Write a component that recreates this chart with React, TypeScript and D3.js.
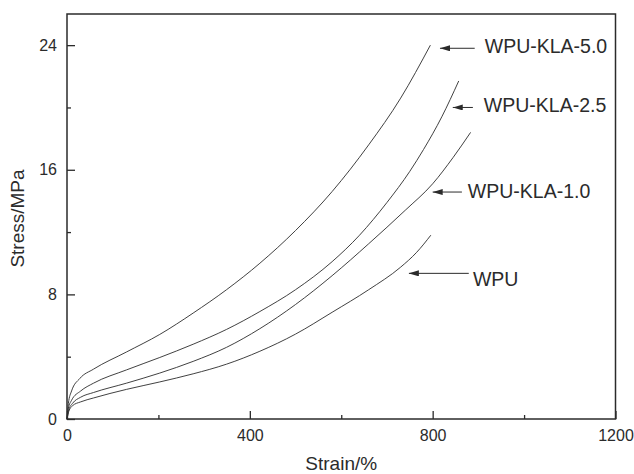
import React, { useEffect, useRef } from "react";
import * as d3 from "d3";

// strain (%) vs stress (MPa)
const strainKLA50 = [0, 3, 10, 28, 58, 130, 203, 276, 349, 422, 500, 580, 660, 730, 795];
const stressKLA50 = [0, 1.0, 1.8, 2.6, 3.2, 4.3, 5.43, 6.8, 8.3, 10.0, 12.1, 14.6, 17.6, 20.6, 24.0];

const strainKLA25 = [0, 3, 10, 30, 58, 130, 203, 276, 349, 422, 500, 580, 640, 700, 750, 780, 820, 857];
const stressKLA25 = [0, 0.7, 1.2, 1.8, 2.3, 3.15, 3.95, 4.8, 5.75, 6.9, 8.3, 10.1, 11.8, 13.9, 15.9, 17.3, 19.4, 21.7];

const strainKLA10 = [0, 4, 12, 30, 58, 130, 203, 276, 349, 422, 500, 580, 660, 740, 800, 845, 883];
const stressKLA10 = [0, 0.6, 1.0, 1.4, 1.7, 2.3, 2.95, 3.7, 4.6, 5.8, 7.35, 9.2, 11.25, 13.4, 15.1, 16.8, 18.4];

const strainWPU = [0, 4, 12, 30, 58, 130, 203, 276, 349, 422, 500, 580, 660, 730, 765, 796];
const stressWPU = [0, 0.5, 0.85, 1.1, 1.35, 1.9, 2.38, 2.9, 3.52, 4.35, 5.45, 6.85, 8.3, 9.75, 10.7, 11.8];

const labels = ["WPU-KLA-5.0", "WPU-KLA-2.5", "WPU-KLA-1.0", "WPU"];
const arrowTipX = [816, 844, 800, 748];
const arrowEndX = [892, 888, 864, 879];
const arrowY = [23.8, 20.0, 14.57, 9.35];
const labelX = [914, 912, 877, 888];
const labelY = [23.5, 19.7, 14.2, 8.55];

const xMajor = [0, 400, 800, 1200];
const xMinor = [200, 600, 1000];
const yMajor = [0, 8, 16, 24];
const yMinor = [4, 12, 20];

const App: React.FC = () => {
  const svgRef = useRef(null);

  useEffect(() => {
    const w = 634;
    const h = 474;
    const ink = "#2b2b2b";
    const font = "'Liberation Sans', Arial, sans-serif";

    const svg = d3.select(svgRef.current).attr("width", w).attr("height", h);

    const x = d3.scaleLinear().domain([0, 1200]).range([67, 615.5]);
    const y = d3.scaleLinear().domain([0, 26]).range([419, 14]);

    // curves
    const series = [
      [strainKLA50, stressKLA50],
      [strainKLA25, stressKLA25],
      [strainKLA10, stressKLA10],
      [strainWPU, stressWPU],
    ];
    const line = d3
      .line<[number, number]>()
      .x((d) => x(d[0]))
      .y((d) => y(d[1]))
      .curve(d3.curveMonotoneX);

    series.forEach(([xs, ys]) => {
      const pts = xs.map((v, i) => [v, ys[i]] as [number, number]);
      svg
        .append("path")
        .attr("d", line(pts))
        .attr("fill", "none")
        .attr("stroke", ink)
        .attr("stroke-width", 0.9);
    });

    // axes (ticks inward)
    const gx = svg.append("g").attr("transform", `translate(0, ${y(0)})`);
    gx.call(d3.axisBottom(x).tickValues(xMajor).tickSize(-8).tickPadding(11).tickFormat(d3.format("d")));
    const gxm = svg.append("g").attr("transform", `translate(0, ${y(0)})`);
    gxm.call(d3.axisBottom(x).tickValues(xMinor).tickSize(-4).tickFormat(() => ""));

    const gy = svg.append("g").attr("transform", `translate(${x(0)}, 0)`);
    gy.call(d3.axisLeft(y).tickValues(yMajor).tickSize(-8).tickPadding(10).tickFormat(d3.format("d")));
    const gym = svg.append("g").attr("transform", `translate(${x(0)}, 0)`);
    gym.call(d3.axisLeft(y).tickValues(yMinor).tickSize(-4).tickFormat(() => ""));

    [gx, gxm, gy, gym].forEach((g) => {
      g.select(".domain").remove();
      g.selectAll("line").attr("stroke", ink).attr("stroke-width", 1.3);
      g.selectAll("text")
        .attr("fill", ink)
        .style("font-family", font)
        .style("font-size", "16px");
    });

    // frame
    svg
      .append("rect")
      .attr("x", x(0))
      .attr("y", y(26))
      .attr("width", x(1200) - x(0))
      .attr("height", y(0) - y(26))
      .attr("fill", "none")
      .attr("stroke", ink)
      .attr("stroke-width", 1.5);

    // axis titles
    svg
      .append("text")
      .attr("x", (x(0) + x(1200)) / 2)
      .attr("y", 470)
      .attr("text-anchor", "middle")
      .attr("fill", ink)
      .style("font-family", font)
      .style("font-size", "19px")
      .text("Strain/%");

    svg
      .append("text")
      .attr("transform", `translate(24, ${(y(0) + y(26)) / 2 + 2}) rotate(-90)`)
      .attr("text-anchor", "middle")
      .attr("fill", ink)
      .style("font-family", font)
      .style("font-size", "19px")
      .text("Stress/MPa");

    // arrows + labels
    svg
      .append("defs")
      .append("marker")
      .attr("id", "arrowhead")
      .attr("viewBox", "0 0 10 6")
      .attr("refX", 10)
      .attr("refY", 3)
      .attr("markerUnits", "userSpaceOnUse")
      .attr("markerWidth", 10)
      .attr("markerHeight", 6)
      .attr("orient", "auto")
      .append("path")
      .attr("d", "M0,0 L10,3 L0,6 Z")
      .attr("fill", ink);

    labels.forEach((lab, i) => {
      svg
        .append("line")
        .attr("x1", x(arrowEndX[i]))
        .attr("x2", x(arrowTipX[i]))
        .attr("y1", y(arrowY[i]))
        .attr("y2", y(arrowY[i]))
        .attr("stroke", ink)
        .attr("stroke-width", 1)
        .attr("marker-end", "url(#arrowhead)");
      svg
        .append("text")
        .attr("x", x(labelX[i]))
        .attr("y", y(labelY[i]))
        .attr("fill", ink)
        .style("font-family", font)
        .style("font-size", "19.5px")
        .text(lab);
    });

    return () => {
      svg.selectAll("*").remove();
    };
  }, []);

  return (
    <div style={{ position: "absolute", left: 0, top: 0, background: "#fff" }}>
      <svg ref={svgRef} style={{ display: "block" }} />
    </div>
  );
};

export default App;
